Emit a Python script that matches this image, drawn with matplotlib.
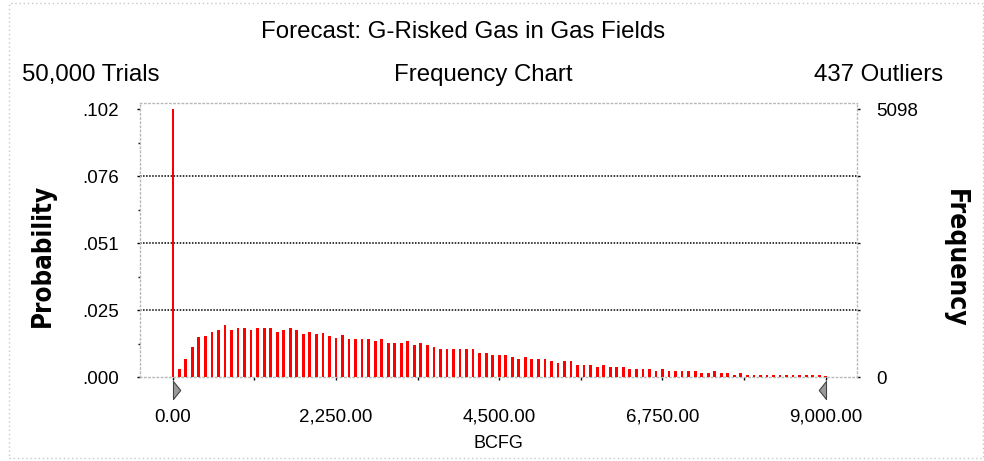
import numpy as np
import matplotlib
matplotlib.use('Agg')
import matplotlib.pyplot as plt
from matplotlib.path import Path
from matplotlib.patches import Rectangle
import matplotlib.transforms as mtransforms

TITLE = 'Forecast: G-Risked Gas in Gas Fields'
TRIALS = 50000
OUTLIERS = 437
UNITS = 'BCFG'

BIN_WIDTH = 90.0
# probability per bin, bin 0 is the spike at zero
PROBS = [0.1020,
         0.0030, 0.0071, 0.0115, 0.0152, 0.0159, 0.0174, 0.0181, 0.0199, 0.0180, 0.0188,
         0.0188, 0.0180, 0.0189, 0.0188, 0.0188, 0.0174, 0.0180, 0.0189, 0.0180, 0.0166,
         0.0174, 0.0166, 0.0167, 0.0158, 0.0151, 0.0160, 0.0145, 0.0145, 0.0145, 0.0145,
         0.0137, 0.0146, 0.0131, 0.0131, 0.0131, 0.0138, 0.0123, 0.0131, 0.0123, 0.0115,
         0.0108, 0.0108, 0.0108, 0.0108, 0.0108, 0.0108, 0.0093, 0.0093, 0.0085, 0.0086,
         0.0086, 0.0079, 0.0071, 0.0079, 0.0071, 0.0071, 0.0071, 0.0061, 0.0053, 0.0061,
         0.0061, 0.0046, 0.0046, 0.0046, 0.0038, 0.0046, 0.0038, 0.0038, 0.0038, 0.0030,
         0.0030, 0.0030, 0.0030, 0.0023, 0.0030, 0.0023, 0.0023, 0.0023, 0.0023, 0.0023,
         0.0015, 0.0015, 0.0023, 0.0015, 0.0015, 0.0008, 0.0015, 0.0008, 0.0008, 0.0008,
         0.0008, 0.0008, 0.0008, 0.0008, 0.0008, 0.0008, 0.0008, 0.0008, 0.0007, 0.0006]

PROB_TICKS = [0.0, 0.0255, 0.051, 0.0765, 0.102]
PROB_LABELS = ['.000', '.025', '.051', '.076', '.102']
FREQ_LABELS = ['0', '', '', '', '5098']
X_TICKS = [0, 2250, 4500, 6750, 9000]
X_MINOR = 1125
Y_MINOR = 0.01275
MAX_COUNT = 5098

W, H = 984, 461
FONT = 'Liberation Sans'


def main():
    plt.rcParams['font.family'] = [FONT, 'DejaVu Sans']
    fig = plt.figure(figsize=(W / 100, H / 100), dpi=100)
    left, right, top, bottom = 139.5, 857.0, 103.3, 377.3
    ax = fig.add_axes([left / W, 1 - bottom / H, (right - left) / W, (bottom - top) / H])

    probs = np.array(PROBS)
    xs = np.arange(len(probs)) * BIN_WIDTH
    widths = np.full(len(probs), 38.0)
    widths[0] = 28.0
    ax.bar(xs, probs, width=widths, color='#ff0000', linewidth=0, zorder=3)

    ax.set_xlim(-457.6, 9431)
    ax.set_ylim(0, 0.1043)

    for s in ax.spines.values():
        s.set_linestyle((0, (1, 2)))
        s.set_color('#b8b8b8')
        s.set_linewidth(1)

    for lv in PROB_TICKS[1:-1]:
        ax.axhline(lv, color='black', lw=1.1, ls=(0, (1, 1)), zorder=2)

    ax.set_yticks(PROB_TICKS)
    ax.set_yticklabels(PROB_LABELS)
    ax.set_yticks(np.arange(0, 0.103, Y_MINOR), minor=True)
    ax.tick_params(axis='y', which='both', length=2, width=1, pad=12.5, labelsize=13.5)
    ax.tick_params(axis='y', which='minor', length=1.5)

    ax.set_xticks(X_TICKS)
    ax.set_xticklabels(['{:,.2f}'.format(v) for v in X_TICKS])
    ax.set_xticks(np.arange(0, 9001, X_MINOR), minor=True)
    ax.tick_params(axis='x', which='both', length=2, width=1, pad=20.5, labelsize=13.5)
    ax.set_xlabel(UNITS, fontsize=13, labelpad=7)

    sec = ax.secondary_yaxis('right', functions=(lambda p: p * TRIALS, lambda f: f / TRIALS))
    freq_ticks = [p * TRIALS for p in PROB_TICKS]
    freq_ticks[-1] = MAX_COUNT
    sec.set_yticks(freq_ticks)
    sec.set_yticklabels(FREQ_LABELS)
    sec.tick_params(length=2, width=1, pad=11.5, labelsize=13.5)
    sec.spines['right'].set_visible(False)

    # certainty grabbers
    trans = mtransforms.blended_transform_factory(ax.transData, ax.transAxes)
    right_tri = Path([(0, -1), (0, 1), (0.8, 0), (0, -1)])
    left_tri = Path([(0, -1), (0, 1), (-0.8, 0), (0, -1)])
    ax.plot([X_TICKS[0]], [-0.045], marker=right_tri, ms=13, mfc='#9a9a9a', mec='#444444',
            mew=0.8, transform=trans, clip_on=False, ls='none')
    ax.plot([X_TICKS[-1]], [-0.045], marker=left_tri, ms=13, mfc='#9a9a9a', mec='#444444',
            mew=0.8, transform=trans, clip_on=False, ls='none')

    fig.text(463 / W, 1 - 32 / H, TITLE, ha='center', va='center', fontsize=17.3)
    fig.text(22 / W, 1 - 75 / H, '{:,} Trials'.format(TRIALS), ha='left', va='center', fontsize=17.3)
    fig.text(483 / W, 1 - 75 / H, 'Frequency Chart', ha='center', va='center', fontsize=17.3)
    fig.text(943 / W, 1 - 75 / H, '{} Outliers'.format(OUTLIERS), ha='right', va='center', fontsize=17.3)

    fig.text(42.5 / W, 1 - 255 / H, 'Probability', rotation=90, ha='center', va='center',
             fontsize=18.5, fontweight='bold', family='DejaVu Sans', fontstretch='condensed')
    fig.text(955 / W, 1 - 258 / H, 'Frequency', rotation=270, ha='center', va='center',
             fontsize=19, fontweight='bold', family='DejaVu Sans', fontstretch='condensed')

    fig.patches.append(Rectangle((9 / W, 3 / H), 974 / W, 455 / H, transform=fig.transFigure,
                                 fill=False, ls=(0, (1, 2)), lw=1, ec='#c8c8c8'))

    fig.savefig('out.png', dpi=100)


if __name__ == '__main__':
    main()
